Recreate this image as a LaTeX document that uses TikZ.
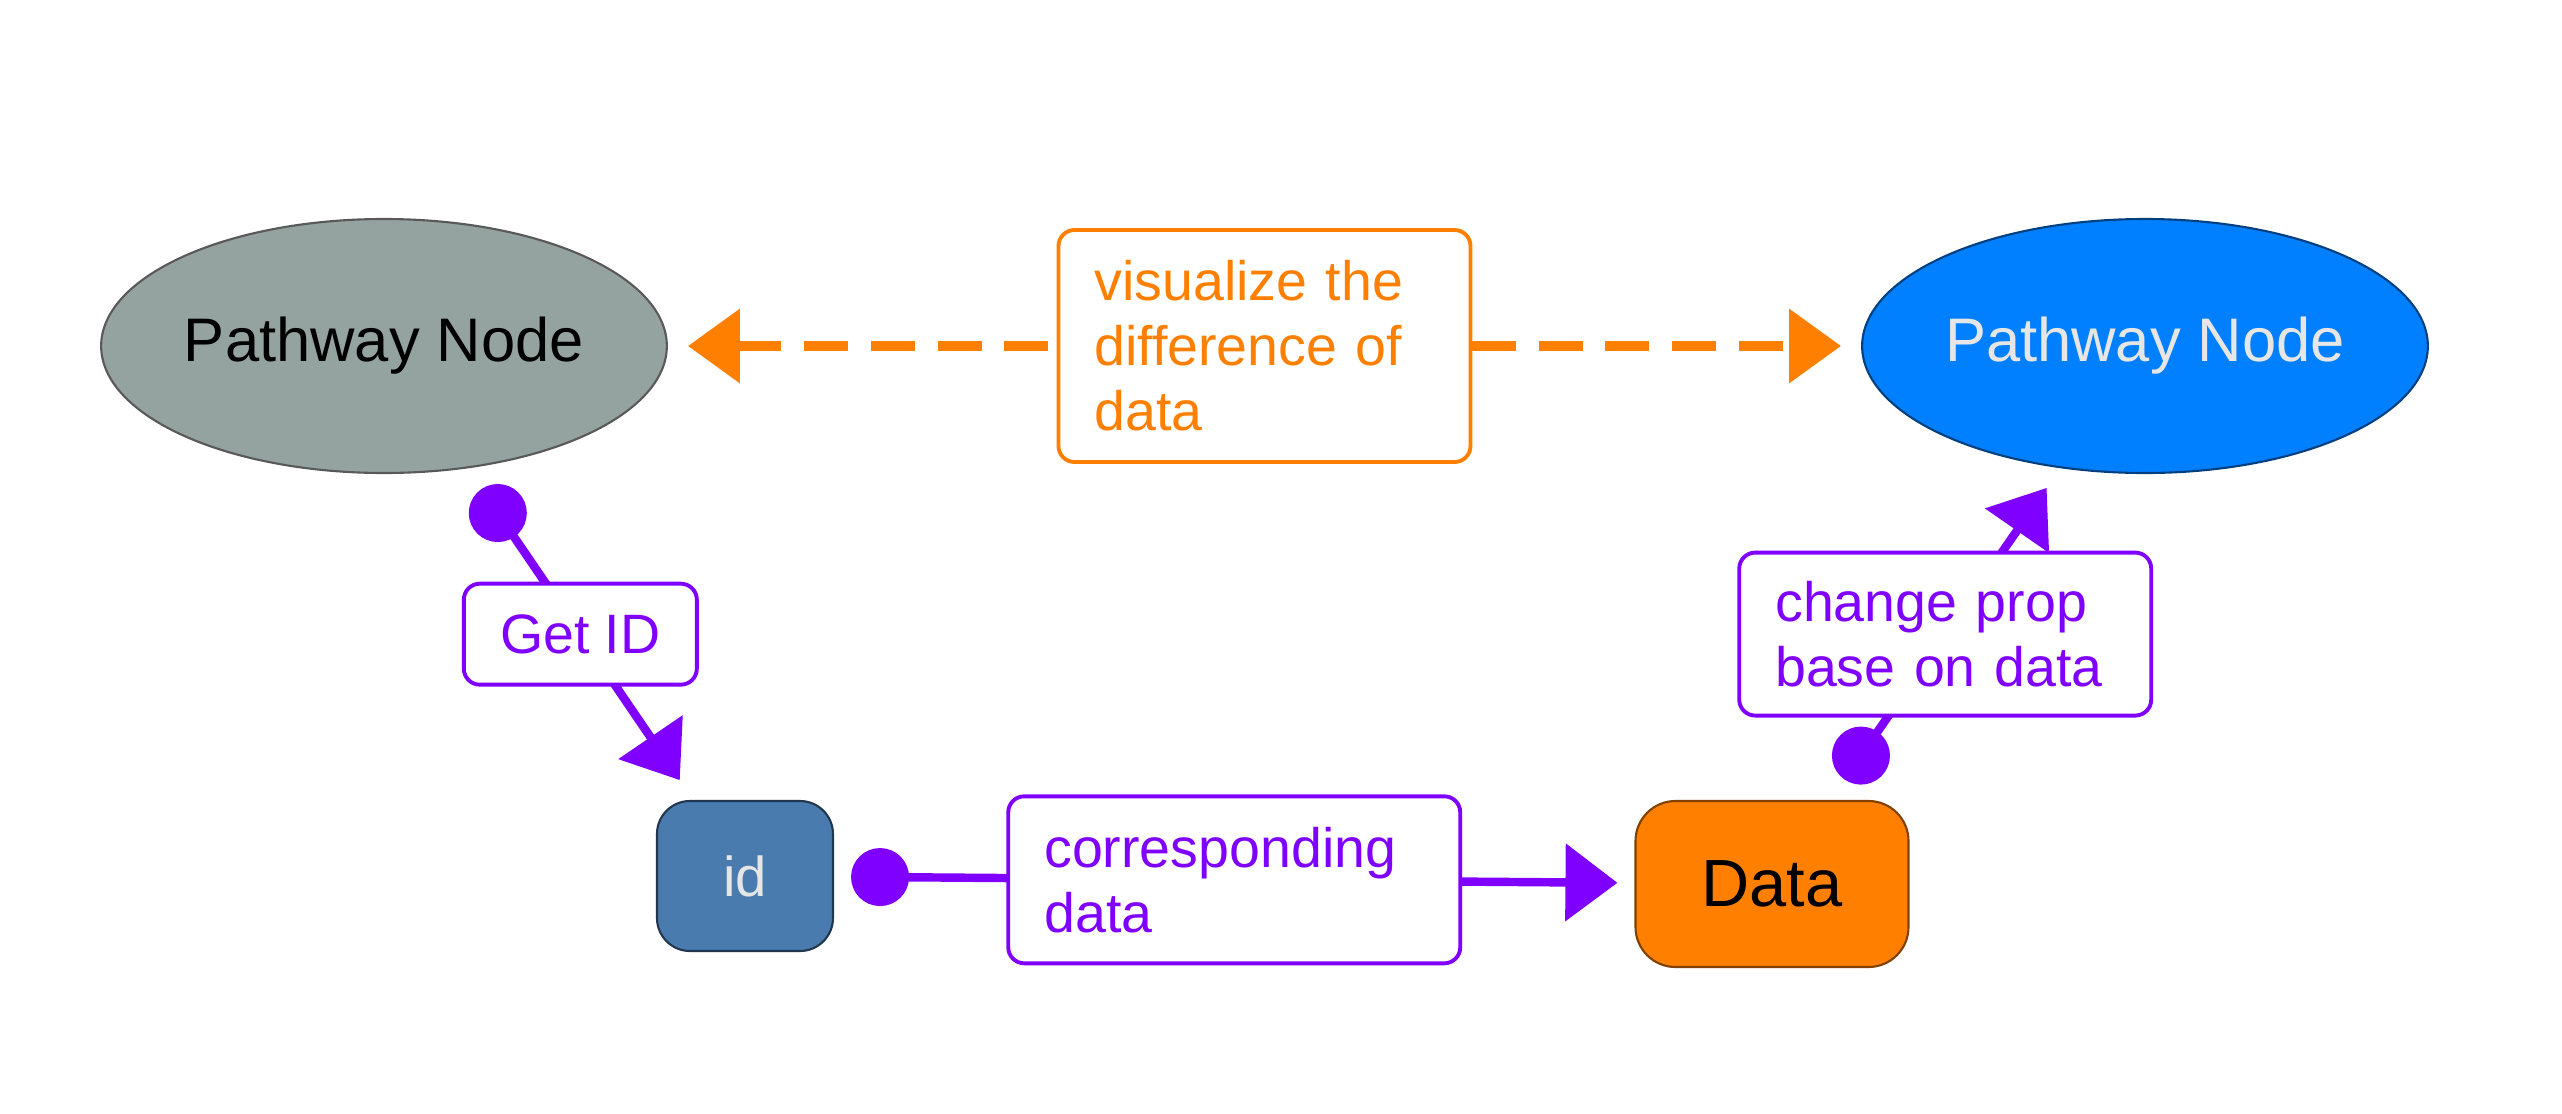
\documentclass[tikz,border=0pt]{standalone}
\usepackage{fontspec}
\setmainfont{Liberation Sans}
\usetikzlibrary{shapes.geometric, arrows.meta}

\definecolor{linkpurple}{HTML}{8000FF}
\definecolor{difforange}{HTML}{FF8000}
\definecolor{nodegray}{HTML}{95A3A0}
\definecolor{nodeblue}{HTML}{0080FF}
\definecolor{idblue}{HTML}{4A7BAF}
\definecolor{lighttext}{HTML}{E6E6E6}

\begin{document}
\begin{tikzpicture}[
  pathnode/.style={ellipse, inner sep=0pt, minimum width=5.62cm, minimum height=2.54cm, line width=0.6pt, font=\fontsize{17.5}{21}\selectfont},
  valbox/.style={rectangle, line width=0.6pt, align=center},
  link/.style={draw=linkpurple, line width=2.4pt, {Circle[length=0.58cm]}-{Triangle[length=0.52cm, width=0.76cm]}, shorten <=0.25cm, shorten >=0.24cm},
  difflink/.style={draw=difforange, line width=3pt, dash pattern=on 12.5pt off 6.5pt, {Triangle[length=0.52cm, width=0.72cm]}-{Triangle[length=0.52cm, width=0.72cm]}, shorten <=0.2cm, shorten >=0.2cm},
  linklabel/.style={solid, draw=linkpurple, fill=white, text=linkpurple, rounded corners=0.16cm, line width=1.1pt, font=\fontsize{15.8}{18.5}\selectfont, inner xsep=0.36cm},
  difflabel/.style={linklabel, draw=difforange, text=difforange}
]
\useasboundingbox (0,0) rectangle (25.62,-11.14);

% --- Pathway nodes ---
\node[pathnode, draw=black!65, fill=nodegray] (lpath) at (3.84,-3.46) {Pathway Node};
\node[pathnode, draw=nodeblue!50!black, fill=nodeblue, text=lighttext] (rpath) at (21.45,-3.46) {Pathway Node};

% --- Values ---
\node[valbox, draw=idblue!45!black, fill=idblue, text=lighttext, rounded corners=0.33cm, minimum width=1.76cm, minimum height=1.5cm, font=\fontsize{16}{19}\selectfont] (id) at (7.45,-8.76) {id};
\node[valbox, draw=difforange!50!black, fill=difforange, rounded corners=0.4cm, minimum width=2.73cm, minimum height=1.66cm, font=\fontsize{19}{23}\selectfont] (data) at (17.72,-8.84) {Data};

% --- Links ---
\draw[link] (lpath) -- (id) node[midway, linklabel, minimum width=2.33cm, minimum height=1.01cm] {Get ID};
\draw[link, shorten <=0.17cm, shorten >=0.17cm] (id) -- (data) node[midway, linklabel, text width=3.8cm, align=left, minimum height=1.67cm] {corresponding\\data};
\draw[link] (data) -- (rpath) node[midway, linklabel, text width=3.4cm, align=left, minimum height=1.63cm] {change prop\\base on data};

% --- Difference ---
\draw[difflink] (lpath) -- (rpath) node[midway, difflabel, text width=3.4cm, align=left, minimum height=2.32cm] {visualize the\\difference of\\data};

\end{tikzpicture}
\end{document}
